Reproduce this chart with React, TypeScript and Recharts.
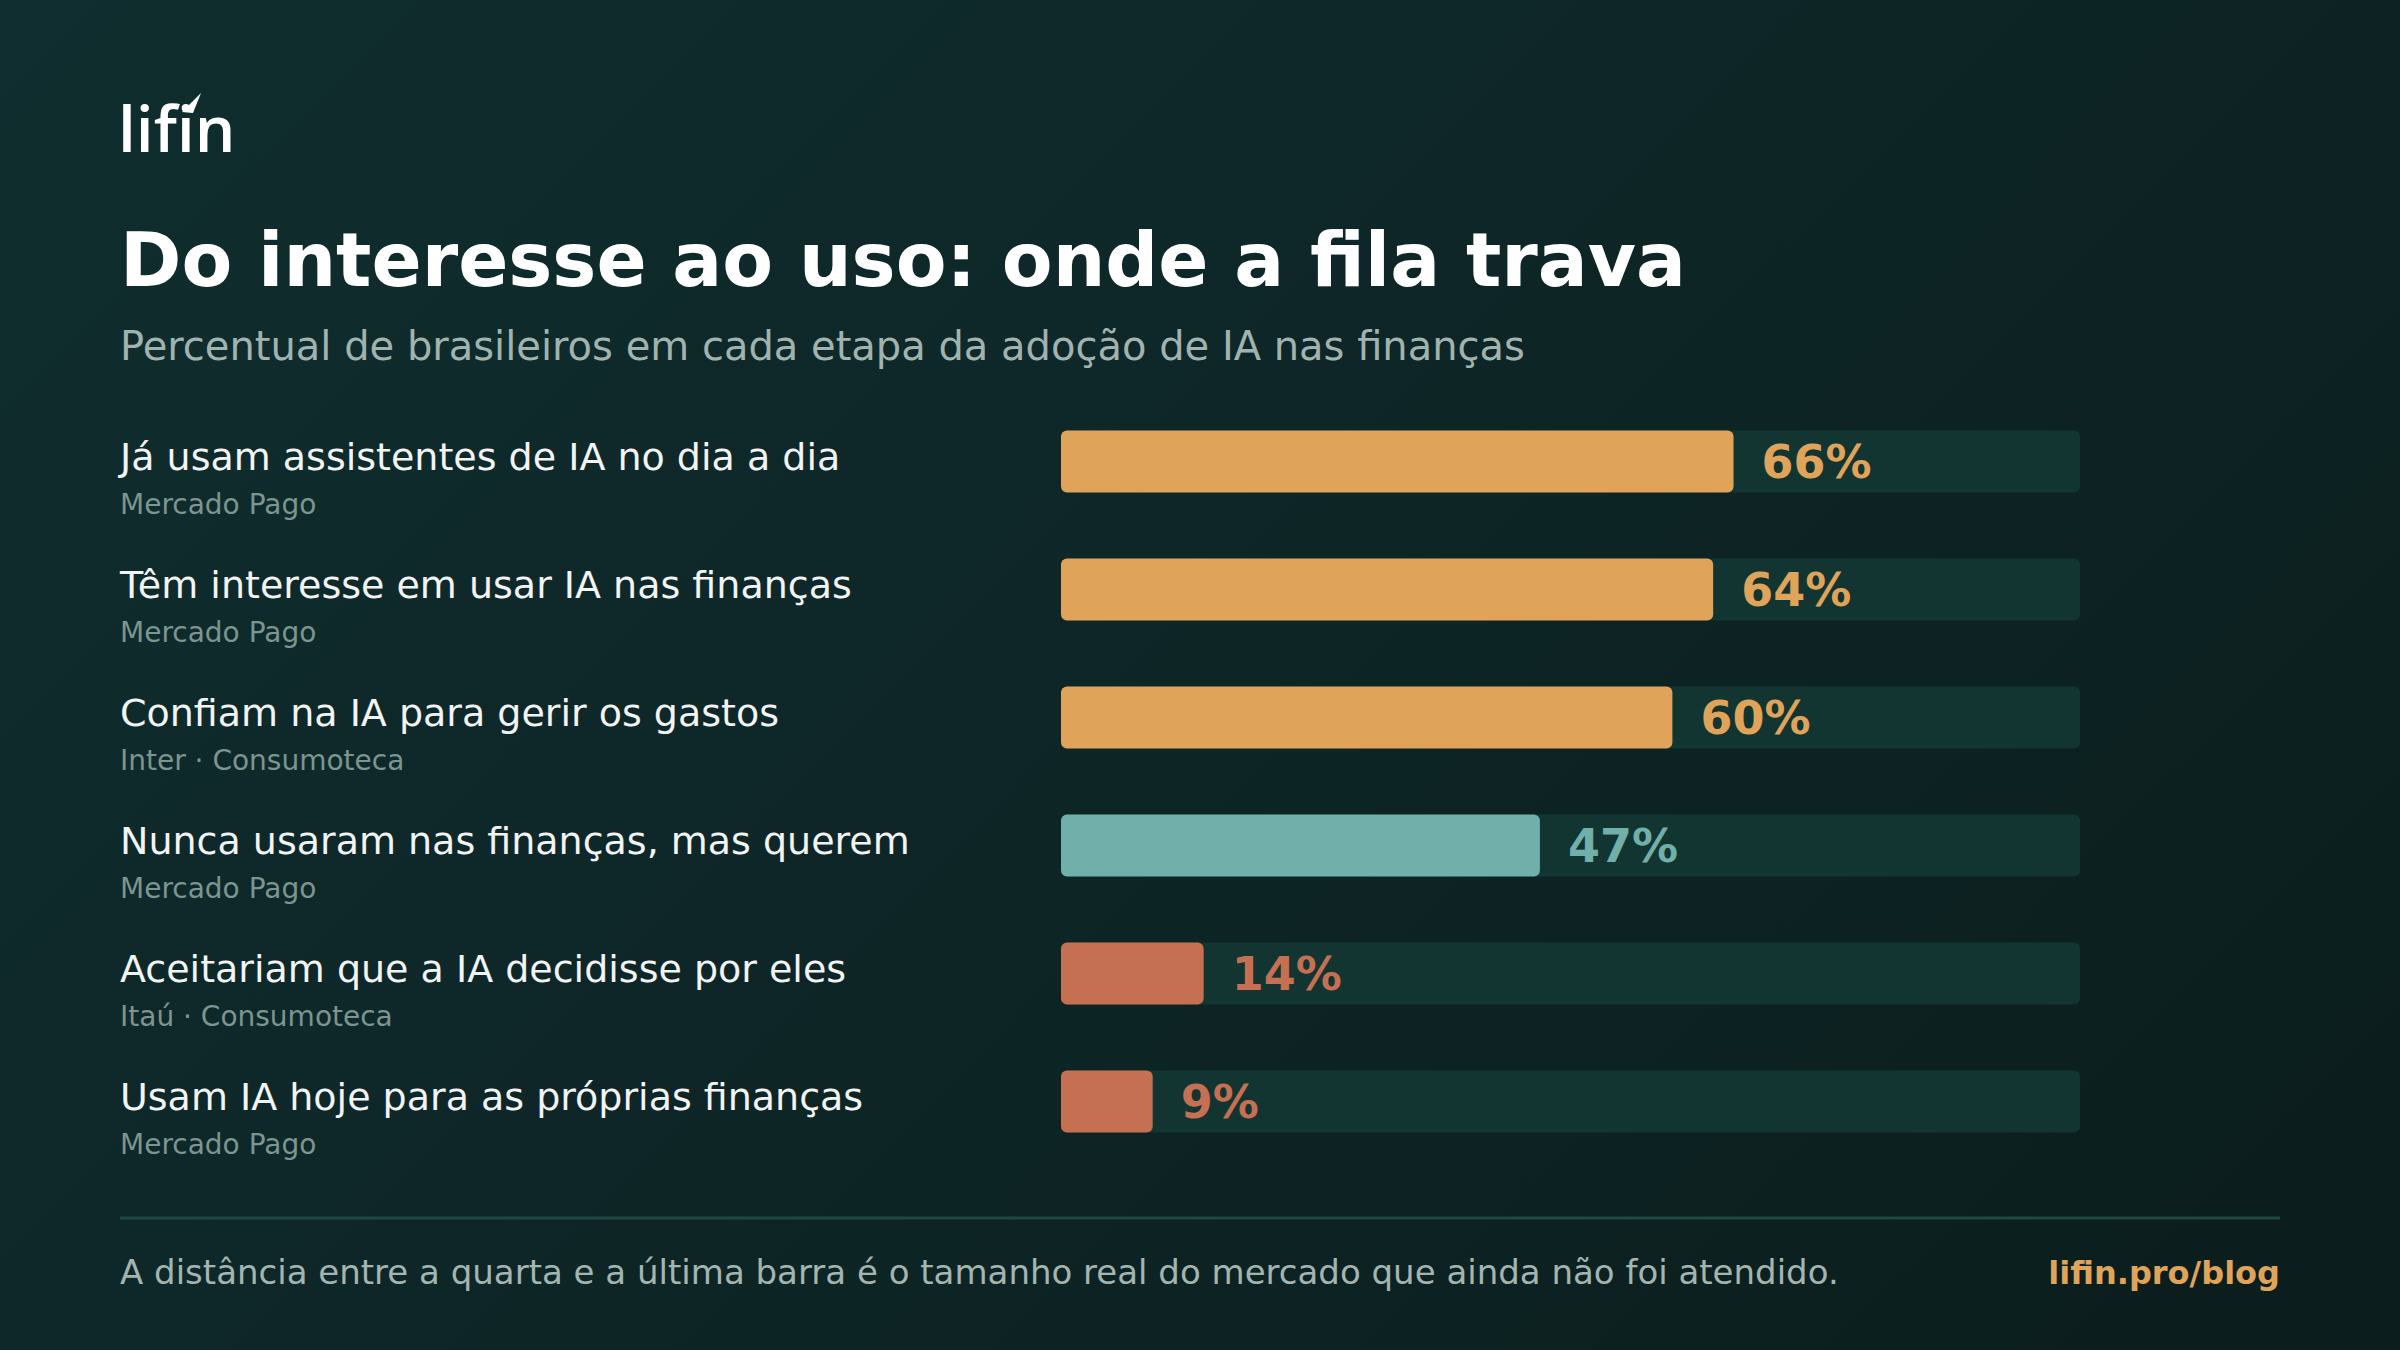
import React from "react";
import { BarChart, Bar, XAxis, YAxis, Cell, LabelList } from "recharts";

const labels = [
  "Já usam assistentes de IA no dia a dia",
  "Têm interesse em usar IA nas finanças",
  "Confiam na IA para gerir os gastos",
  "Nunca usaram nas finanças, mas querem",
  "Aceitariam que a IA decidisse por eles",
  "Usam IA hoje para as próprias finanças",
];
const sources = [
  "Mercado Pago",
  "Mercado Pago",
  "Inter · Consumoteca",
  "Mercado Pago",
  "Itaú · Consumoteca",
  "Mercado Pago",
];
const values = [66, 64, 60, 47, 14, 9];

const barColors = ["#dfa45a", "#dfa45a", "#dfa45a", "#70afaa", "#c57052", "#c57052"];

const data = labels.map((label, i) => ({ label, source: sources[i], value: values[i] }));

const FONT = "'DejaVu Sans', sans-serif";
const LEFT = 120;

function RowTick(props: any) {
  const { y, payload, index } = props;
  return (
    <g>
      <text x={LEFT} y={y + 8.5} fill="#f1f4f3" fontSize={38} fontFamily={FONT}>
        {payload.value}
      </text>
      <text x={LEFT} y={y + 52.5} fill="#7c958f" fontSize={28} fontFamily={FONT}>
        {sources[index]}
      </text>
    </g>
  );
}

function ValueLabel(props: any) {
  const { x, y, width, height, value, index } = props;
  return (
    <text
      x={x + width + 28}
      y={y + height / 2}
      dominantBaseline="central"
      fill={barColors[index]}
      fontSize={46}
      fontWeight="bold"
      fontFamily={FONT}
    >
      {value}%
    </text>
  );
}

export default function App() {
  return (
    <div
      style={{
        position: "absolute",
        left: 0,
        top: 0,
        width: 2400,
        height: 1350,
        overflow: "hidden",
        background: "linear-gradient(135deg, #102e2f 0%, #0e2627 45%, #0b1d1c 100%)",
      }}
    >
      <svg width={2400} height={1350} style={{ position: "absolute", left: 0, top: 0 }}>
        {/* logo */}
        <text x={118} y={152} fill="#ffffff" fontSize={64} fontWeight={600} fontFamily="'Open Sans', sans-serif">
          lifin
        </text>
        <path d="M182 112 L201 93 L193 113 Z" fill="#ffffff" />

        <text x={120} y={286} fill="#ffffff" fontSize={74} fontWeight="bold" fontFamily={FONT}>
          Do interesse ao uso: onde a fila trava
        </text>
        <text x={120} y={360} fill="#a0b3ae" fontSize={40} fontFamily={FONT}>
          Percentual de brasileiros em cada etapa da adoção de IA nas finanças
        </text>

        <line x1={120} x2={2280} y1={1218} y2={1218} stroke="#1f4743" strokeWidth={3} />
        <text x={120} y={1284} fill="#a3b5b1" fontSize={34} fontFamily={FONT}>
          A distância entre a quarta e a última barra é o tamanho real do mercado que ainda não foi atendido.
        </text>
        <text x={2280} y={1284} textAnchor="end" fill="#dfa45a" fontSize={32} fontWeight="bold" fontFamily={FONT}>
          lifin.pro/blog
        </text>
      </svg>

      <div style={{ position: "absolute", left: 0, top: 0 }}>
        <BarChart
          width={2400}
          height={1350}
          data={data}
          layout="vertical"
          margin={{ top: 397.5, bottom: 184.5, left: LEFT, right: 320 }}
        >
          <XAxis type="number" domain={[0, 100]} hide />
          <YAxis
            type="category"
            dataKey="label"
            width={941}
            axisLine={false}
            tickLine={false}
            tick={<RowTick />}
            interval={0}
          />
          <Bar
            dataKey="value"
            barSize={62}
            radius={6}
            background={{ fill: "#133532", radius: 6 }}
            isAnimationActive={false}
          >
            {data.map((d, i) => (
              <Cell key={d.label} fill={barColors[i]} />
            ))}
            <LabelList dataKey="value" content={<ValueLabel />} />
          </Bar>
        </BarChart>
      </div>
    </div>
  );
}
